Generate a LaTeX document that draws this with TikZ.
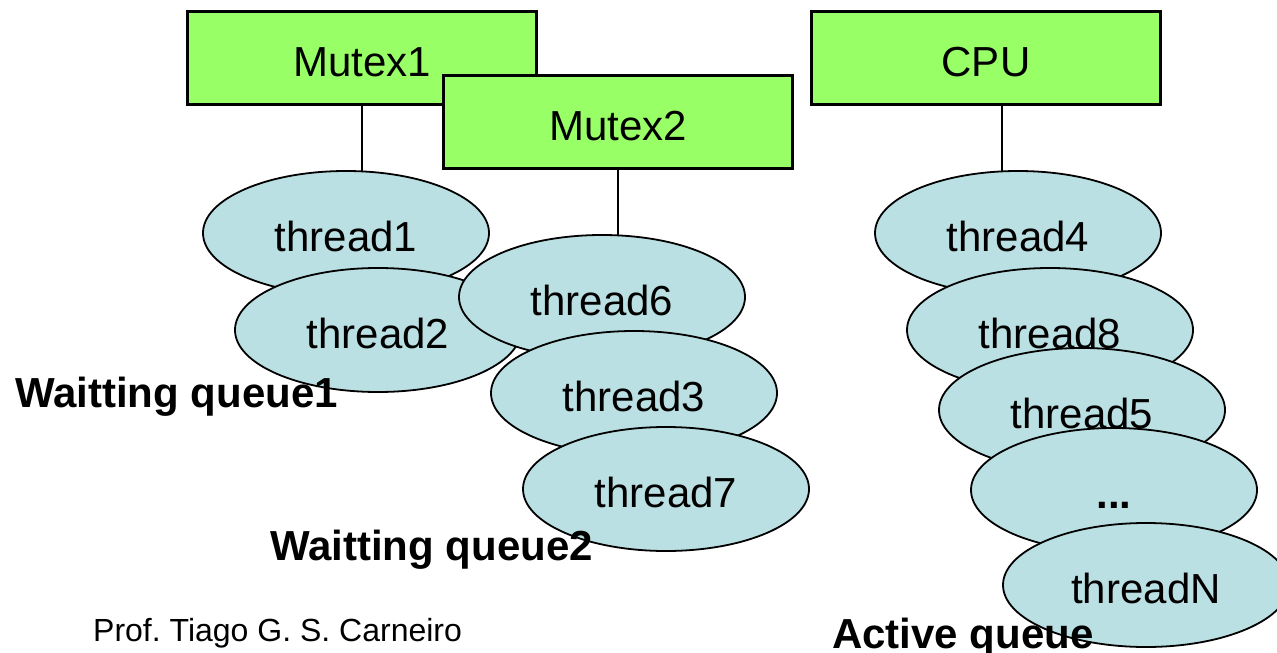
\documentclass[tikz,border=0pt]{standalone}
\usepackage{fontspec}
\setmainfont{Liberation Sans}
\usetikzlibrary{shapes.geometric}
\definecolor{mutexgreen}{RGB}{153,255,102}
\definecolor{threadblue}{RGB}{187,224,227}
\tikzset{
  resbox/.style={draw=black, line width=3pt, fill=mutexgreen, rectangle,
    minimum width=349pt, minimum height=93pt, inner sep=0pt,
    font=\fontsize{42}{50}\selectfont, text height=36pt, text depth=0pt},
  thread/.style={draw=black, line width=1.8pt, fill=threadblue, ellipse,
    minimum width=286pt, minimum height=124pt, inner sep=0pt,
    font=\fontsize{42}{50}\selectfont, text height=36pt, text depth=0pt},
  link/.style={draw=black, line width=2pt},
  qlabel/.style={anchor=base west, inner sep=0pt,
    font=\fontsize{42}{50}\selectfont\bfseries},
  credit/.style={anchor=base west, inner sep=0pt,
    font=\fontsize{32}{38}\selectfont\frenchspacing}
}
\begin{document}
\begin{tikzpicture}[x=1pt,y=-1pt]
\useasboundingbox (0,0) rectangle (1277,653);

% resources
\node[resbox] (m1) at (362,58) {Mutex1};
\node[resbox] (m2) at (618,122) {Mutex2};
\node[resbox] (cpu) at (986,58) {CPU};

% queue heads hang below their resource
\coordinate (t1top) at (362,233);
\coordinate (t6top) at (618,297);
\coordinate (t4top) at (1002,233);
\draw[link] (m1.south) -- (t1top);
\draw[link] (m2.south) -- (t6top);
\draw[link] (cpu.south -| t4top) -- (t4top);

% waiting queue 1
\node[thread] (t1) at (346,233) {thread1};
\node[thread] (t2) at (378,330) {thread2};

% waiting queue 2
\node[thread] (t6) at (602,297) {thread6};
\node[thread] (t3) at (634,393) {thread3};
\node[thread] (t7) at (666,489) {thread7};

% active queue
\node[thread] (t4) at (1018,233) {thread4};
\node[thread] (t8) at (1050,330) {thread8};
\node[thread] (t5) at (1082,410) {thread5};
\node[thread] (tdots) at (1114,490) {\bfseries ...};
\node[thread] (tN) at (1146,585) {threadN};

% captions
\node[qlabel] (q1) at (15,407) {Waitting queue1};
\node[qlabel] (q2) at (270,560) {Waitting queue2};
\node[qlabel] (qa) at (832,648) {Active queue};
\node[credit] (author) at (93,641) {Prof. Tiago G. S. Carneiro};
\end{tikzpicture}
\end{document}
